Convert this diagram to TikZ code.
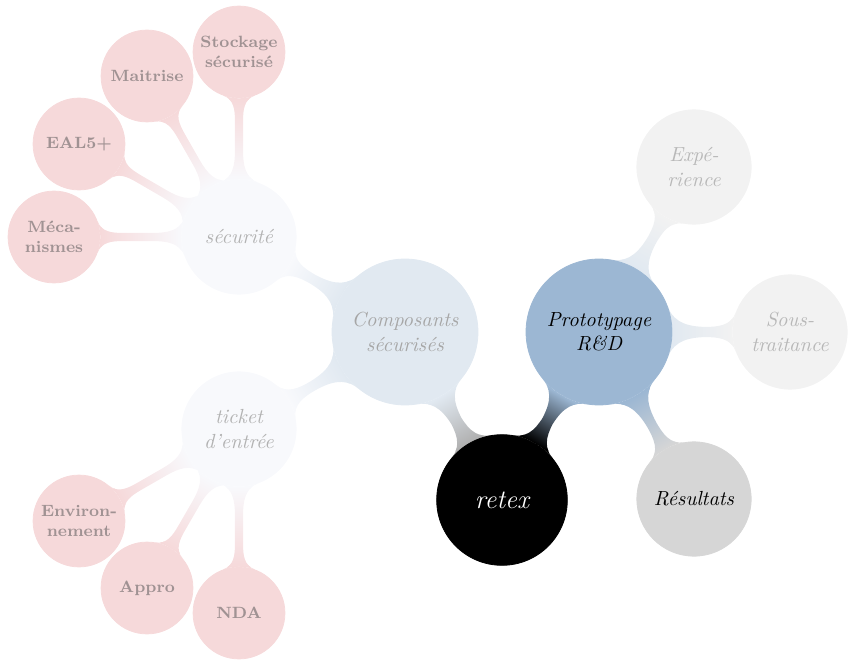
\documentclass[tikz,border=0pt]{standalone}
\usetikzlibrary{mindmap,backgrounds}

\definecolor{protoblue}{HTML}{9CB7D3}
\definecolor{protofade}{HTML}{E1E9F1}
\definecolor{compblue}{HTML}{E1E9F1}
\definecolor{paleblue}{HTML}{F8F9FC}
\definecolor{rootfade}{HTML}{B0B0B0}
\definecolor{resgray}{HTML}{D6D6D6}
\definecolor{palegray}{HTML}{F2F2F2}
\definecolor{leafpink}{HTML}{F6D9DA}
\definecolor{leaftext}{HTML}{A09293}

\tikzset{
  rootnode/.style={concept, concept color=black, circle, inner sep=0pt,
    minimum size=64pt, text width=56pt, align=center,
    font=\fontsize{13}{15}\selectfont\itshape, text=white},
  mainnode/.style={concept, circle, inner sep=0pt, minimum size=71.5pt,
    text width=56pt, align=center, font=\itshape},
  subnode/.style={concept, circle, inner sep=0pt, minimum size=56pt,
    text width=46pt, align=center, font=\itshape},
  leafnode/.style={concept, concept color=leafpink, circle, inner sep=0pt,
    minimum size=45pt, text width=40pt, align=center,
    font=\footnotesize\bfseries, text=leaftext},
}

\begin{document}
\begin{tikzpicture}
        [x=0.49pt,y=-0.49pt]
        \useasboundingbox (0,0) rectangle (848,662);

        \node[rootnode] (retex) at (502,500) {retex};

        \node[mainnode, concept color=protoblue] (proto) at (599,332) {Prototypage\\R\&D};
        \node[mainnode, concept color=compblue, text=black!35] (comp) at (405,332) {Composants\\sécurisés};

        \node[subnode, concept color=palegray, text=black!28] (expe) at (694,167) {Expé-\\rience};
        \node[subnode, concept color=palegray, text=black!28] (sous) at (790,332) {Sous-\\traitance};
        \node[subnode, concept color=resgray, text=black] (resu) at (694,499) {Résultats};

        \node[subnode, concept color=paleblue, text=black!30] (secu) at (239,237) {sécurité};
        \node[subnode, concept color=paleblue, text=black!30] (tick) at (239,429) {ticket\\d'entrée};

        \node[leafnode] (meca) at (54,237) {Méca-\\nismes};
        \node[leafnode] (eal) at (79,144) {EAL5+};
        \node[leafnode] (mait) at (147,76) {Maitrise};
        \node[leafnode] (stock) at (239,52) {Stockage\\sécurisé};

        \node[leafnode] (envi) at (79,521) {Environ-\\nement};
        \node[leafnode] (appr) at (147,588) {Appro};
        \node[leafnode] (nda) at (239,613) {NDA};

        \begin{pgfonlayer}{background}
          \path (retex) to[circle connection bar switch color=from (black) to (protoblue)] (proto);
          \path (retex) to[circle connection bar switch color=from (rootfade) to (compblue)] (comp);

          \path (proto) to[circle connection bar switch color=from (protofade) to (palegray)] (expe);
          \path (proto) to[circle connection bar switch color=from (protofade) to (palegray)] (sous);
          \path (proto) to[circle connection bar switch color=from (protoblue) to (resgray)] (resu);

          \path (comp) to[circle connection bar switch color=from (compblue) to (paleblue)] (secu);
          \path (comp) to[circle connection bar switch color=from (compblue) to (paleblue)] (tick);

          \foreach \leaf in {meca,eal,mait,stock}
            \path (secu) to[circle connection bar switch color=from (paleblue) to (leafpink)] (\leaf);
          \foreach \leaf in {envi,appr,nda}
            \path (tick) to[circle connection bar switch color=from (paleblue) to (leafpink)] (\leaf);
        \end{pgfonlayer}
      \end{tikzpicture}
\end{document}
